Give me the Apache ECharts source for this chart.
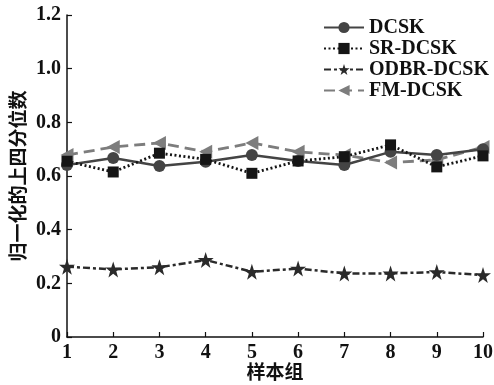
<!DOCTYPE html>
<html><head><meta charset="utf-8">
<script src="https://cdn.jsdelivr.net/npm/echarts@6/dist/echarts.min.js"></script>
<style>html,body{margin:0;padding:0;background:#fff}#c{width:494px;height:385px}</style>
</head><body><div id="c"></div>
<script>
const categories = ['1','2','3','4','5','6','7','8','9','10'];
const dcsk = [0.641,0.667,0.637,0.653,0.678,0.656,0.641,0.690,0.678,0.700];
const srDcsk = [0.655,0.615,0.685,0.662,0.610,0.656,0.672,0.716,0.634,0.675];
const odbrDcsk = [0.262,0.252,0.260,0.287,0.243,0.255,0.237,0.237,0.242,0.231];
const fmDcsk = [0.678,0.708,0.723,0.690,0.723,0.690,0.678,0.650,0.660,0.708];
const yTicks = {min:0, max:1.2, interval:0.2};

const serif = 'Liberation Serif';
const chart = echarts.init(document.getElementById('c'));
chart.setOption({
  animation:false,
  backgroundColor:'#fff',
  grid:{left:67,right:11,top:15,bottom:48,containLabel:false,outerBoundsMode:'none'},
  legend:{
    orient:'vertical', left:318, top:12, itemWidth:40, itemHeight:14, itemGap:0,
    textStyle:{fontFamily:serif,fontWeight:'bold',fontSize:20,lineHeight:21,color:'#111'},
    data:['DCSK','SR-DCSK','ODBR-DCSK','FM-DCSK']
  },
  xAxis:{
    type:'category', data:categories, boundaryGap:false,
    name:'样本组', nameLocation:'middle', nameGap:25, nameMoveOverlap:false,
    nameTextStyle:{fontFamily:'Noto Sans CJK SC',fontWeight:'bold',fontSize:19,color:'#111'},
    axisLine:{lineStyle:{color:'#111',width:1.5}},
    axisTick:{inside:true,length:5,lineStyle:{color:'#111',width:1.2}},
    axisLabel:{fontFamily:serif,fontWeight:'bold',fontSize:20,color:'#111',margin:6},
    splitLine:{show:false}
  },
  yAxis:{
    type:'value', min:yTicks.min, max:yTicks.max, interval:yTicks.interval,
    name:'归一化的上四分位数', nameLocation:'middle', nameGap:40, nameRotate:90, nameMoveOverlap:false,
    nameTextStyle:{fontFamily:'Noto Sans CJK SC',fontWeight:'bold',fontSize:19,color:'#111'},
    axisLine:{show:true,lineStyle:{color:'#111',width:1.5}},
    axisTick:{show:true,inside:true,length:5,lineStyle:{color:'#111',width:1.2}},
    axisLabel:{fontFamily:serif,fontWeight:'bold',fontSize:20,color:'#111',margin:6,
      formatter:v=>v===0?'0':v.toFixed(1)},
    splitLine:{show:false}
  },
  series:[
    {name:'DCSK',type:'line',data:dcsk,symbol:'circle',symbolSize:12,z:3,
     itemStyle:{color:'#444'},lineStyle:{color:'#444',width:2.5}},
    {name:'SR-DCSK',type:'line',data:srDcsk,symbol:'rect',symbolSize:11,z:4,
     itemStyle:{color:'#151515'},lineStyle:{color:'#151515',width:2.8,type:[2,2.5]}},
    {name:'ODBR-DCSK',type:'line',data:odbrDcsk,symbol:'path://M50,0 L61.8,35.1 L98.9,35.1 L68.8,57.3 L79.4,91.9 L50,70.6 L20.6,91.9 L31.2,57.3 L1.1,35.1 L38.2,35.1 Z',symbolSize:16,z:2,
     itemStyle:{color:'#2a2a2a'},lineStyle:{color:'#2a2a2a',width:2.5,type:[7,3,3,3]}},
    {name:'FM-DCSK',type:'line',data:fmDcsk,symbol:'triangle',symbolRotate:90,symbolSize:[14,13],z:1,
     itemStyle:{color:'#7d7d7d'},lineStyle:{color:'#7d7d7d',width:2.8,type:[11,6]}}
  ]
});
</script></body></html>
